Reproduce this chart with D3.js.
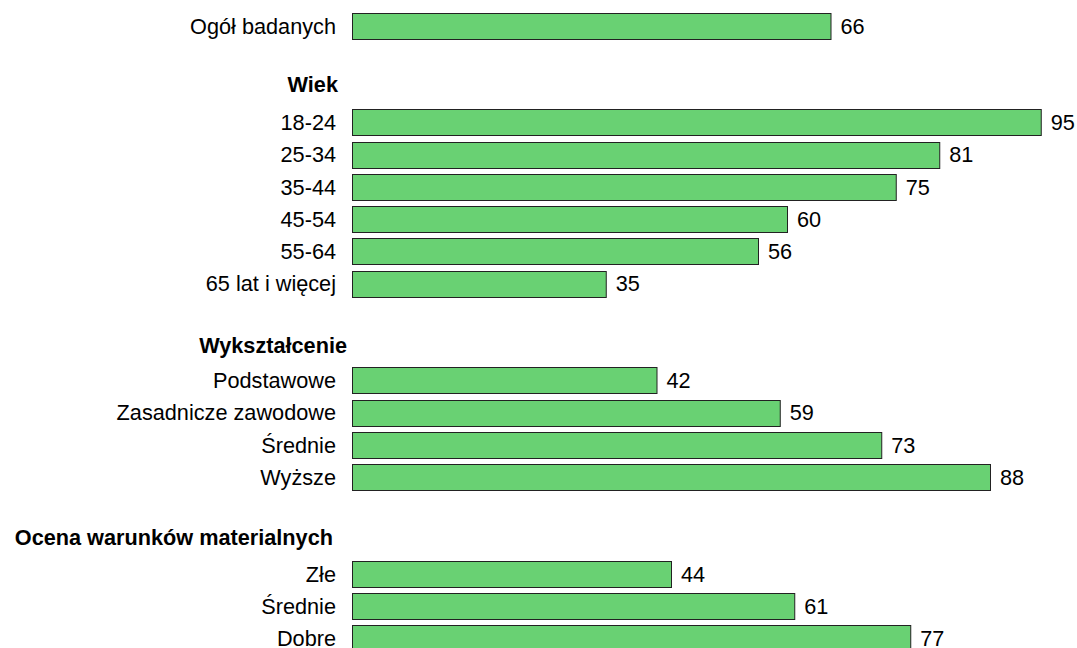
<!DOCTYPE html>
<html>
<head>
<meta charset="utf-8">
<script src="https://cdn.jsdelivr.net/npm/d3@7"></script>
<style>
html,body{margin:0;padding:0;background:#fff;}
svg{display:block;}
text{font-family:"Liberation Sans",Arial,sans-serif;font-size:21.7px;fill:#000;}
</style>
</head>
<body>
<svg id="chart" width="1077" height="648"></svg>
<script>
// Rows in order; "header" rows are group titles, "" rows are spacers
const rowLabels = ["Ogół badanych", "", "Wiek", "18-24", "25-34", "35-44", "45-54", "55-64", "65 lat i więcej", "", "Wykształcenie", "Podstawowe", "Zasadnicze zawodowe", "Średnie", "Wyższe", "", "Ocena warunków materialnych", "Złe", "Średnie", "Dobre"];
const rowTypes  = ["bar", "gap", "header", "bar", "bar", "bar", "bar", "bar", "bar", "gap", "header", "bar", "bar", "bar", "bar", "gap", "header", "bar", "bar", "bar"];
const rowValues = [66, null, null, 95, 81, 75, 60, 56, 35, null, null, 42, 59, 73, 88, null, null, 44, 61, 77];

// layout / style (not data)
const headerStyle = {
  "Wiek": {right: 338, dy: -6},
  "Wykształcenie": {right: 347, dy: -3},
  "Ocena warunków materialnych": {right: 333, dy: -4}
};

const svg = d3.select("#chart");
const ids = rowLabels.map((d, i) => i);
const y = d3.scaleBand().domain(ids).range([9.6, 9.6 + 20 * 32.24]).paddingInner(0.19).paddingOuter(0.095);
const x = d3.scaleLinear().domain([0, 100]).range([352, 1077]);

const rows = ids.map(i => ({i, label: rowLabels[i], type: rowTypes[i], value: rowValues[i]}));
const bars = rows.filter(r => r.type === "bar");
const heads = rows.filter(r => r.type === "header");

svg.selectAll("rect.bar").data(bars).join("rect")
  .attr("class", "bar")
  .attr("x", x(0) + 0.5)
  .attr("y", d => Math.round(y(d.i) + y.bandwidth() / 2 - 13) + 0.5)
  .attr("width", d => x(d.value) - x(0))
  .attr("height", 26)
  .attr("fill", "#69d173")
  .attr("stroke", "#222")
  .attr("stroke-width", 1);

svg.selectAll("text.cat").data(bars).join("text")
  .attr("class", "cat")
  .attr("x", 336)
  .attr("y", d => y(d.i) + y.bandwidth() / 2)
  .attr("dy", "0.36em")
  .attr("text-anchor", "end")
  .text(d => d.label);

svg.selectAll("text.val").data(bars).join("text")
  .attr("class", "val")
  .attr("x", d => x(d.value) + 10)
  .attr("y", d => y(d.i) + y.bandwidth() / 2)
  .attr("dy", "0.36em")
  .text(d => d.value);

svg.selectAll("text.head").data(heads).join("text")
  .attr("class", "head")
  .attr("x", d => headerStyle[d.label].right)
  .attr("y", d => y(d.i) + y.bandwidth() / 2 + headerStyle[d.label].dy)
  .attr("dy", "0.36em")
  .attr("text-anchor", "end")
  .style("font-weight", "bold")
  .text(d => d.label);
</script>
</body>
</html>
